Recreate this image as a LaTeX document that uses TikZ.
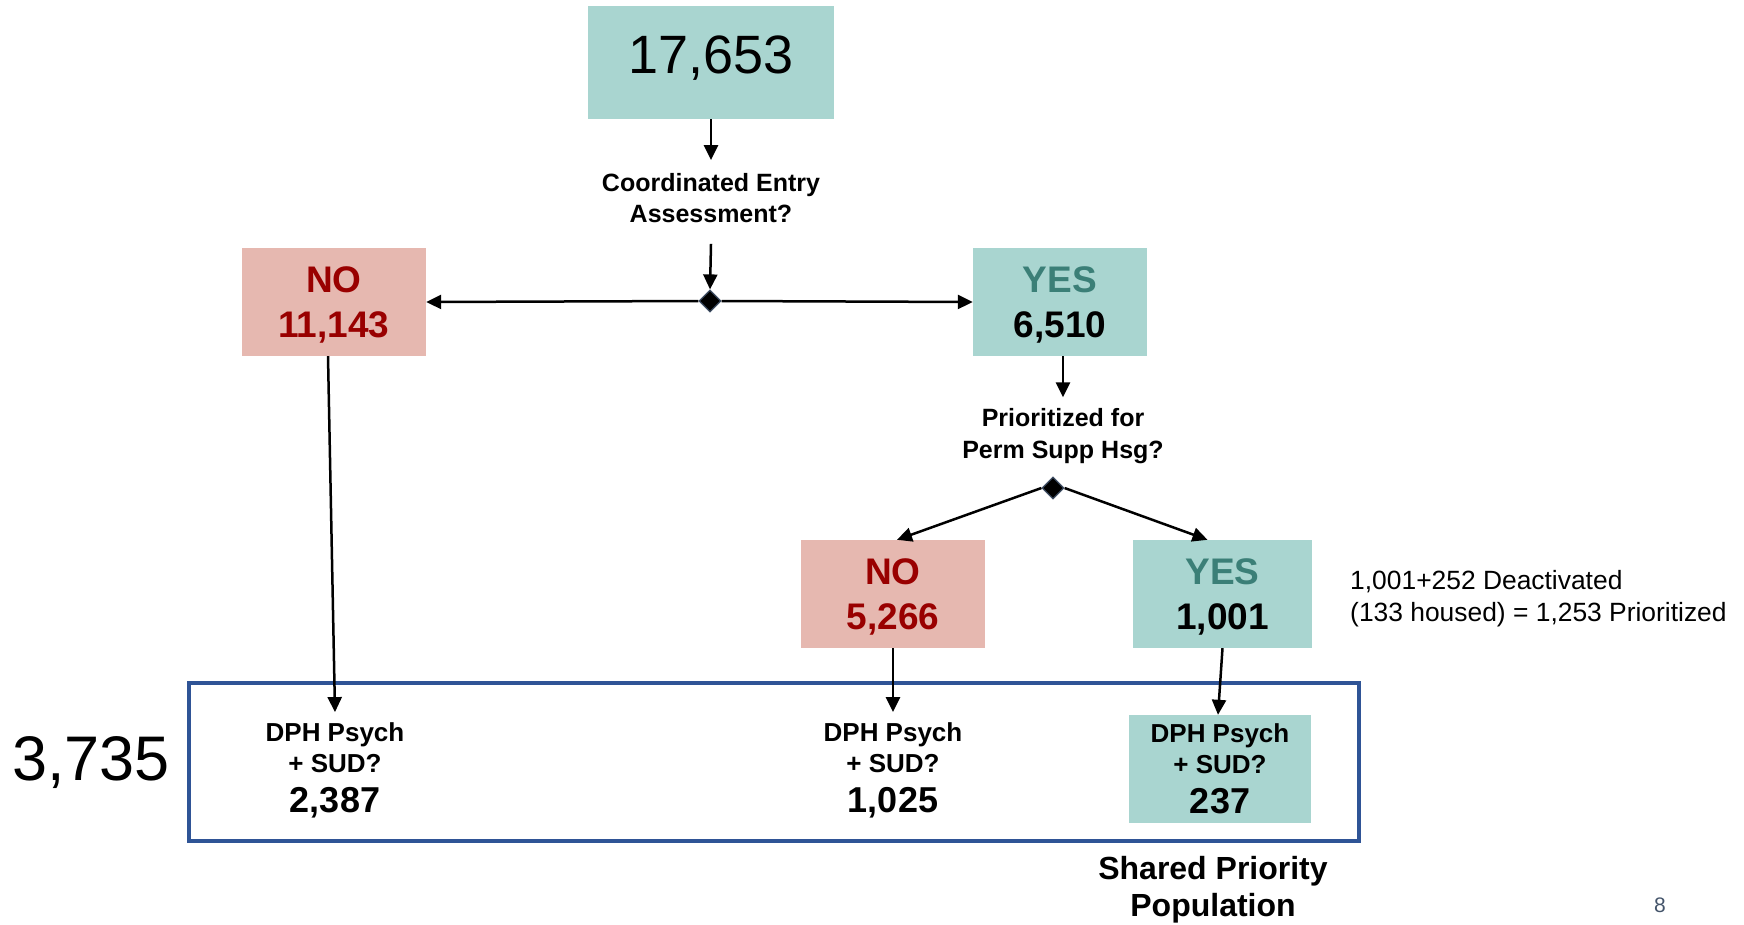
\documentclass[tikz,border=0pt]{standalone}
\usepackage{fontspec}
\setmainfont{Liberation Sans}
\usetikzlibrary{arrows.meta,shapes.geometric}
\definecolor{tealfill}{HTML}{A9D5D0}
\definecolor{pinkfill}{HTML}{E6B8B0}
\definecolor{nored}{HTML}{990000}
\definecolor{yesteal}{HTML}{3B7F77}
\definecolor{frameblue}{HTML}{2F5496}
\definecolor{diaedge}{HTML}{3E4D63}
\definecolor{pagenum}{HTML}{44546A}
\newcommand{\fsz}[2]{\fontsize{#1}{#2}\selectfont}
\begin{document}
\begin{tikzpicture}[x=1pt,y=-1pt,
  box/.style={inner sep=0pt, align=center},
  tealbox/.style={box, fill=tealfill},
  pinkbox/.style={box, fill=pinkfill},
  ynbox/.style={minimum width=#1, minimum height=108pt, text depth=0pt, font=\bfseries\fsz{37}{45.5}},
  arr/.style={-{Triangle[length=15pt,width=14pt]}, line width=2.5pt},
  dia/.style={diamond, fill=black, draw=diaedge, line width=1.2pt, minimum width=22pt, minimum height=22pt, inner sep=0pt},
  qtext/.style={inner sep=0pt, align=center, font=\bfseries\fsz{25}{31}},
  dphtext/.style={inner sep=0pt, align=center, font=\bfseries\fsz{26}{31}},
]
\useasboundingbox (0,0) rectangle (1744,924);

% top
\node[tealbox, minimum width=246pt, minimum height=113pt, text depth=15pt] (top) at (711,62.5) {\fsz{54}{60}17,653};
\node[qtext] (ce) at (711,198) {Coordinated Entry\\Assessment?};
\node[dia] (d1) at (710,301) {};
\node[pinkbox, ynbox=184pt, text=nored] (no1) at (334,302) {NO\\11,143};
\node[tealbox, ynbox=174pt] (yes1) at (1060,302) {\textcolor{yesteal}{YES}\\6,510};

\draw[arr] (top.south) -- ([yshift=13pt]ce.north);
\draw[arr] ([yshift=-21pt]ce.south) -- (d1.north);
\draw[arr] (d1.west) -- (no1.east);
\draw[arr] (d1.east) -- (yes1.west);

% second level
\node[qtext, font=\bfseries\fsz{25}{32.5}] (pq) at (1063,436) {Prioritized for\\Perm Supp Hsg?};
\node[dia] (d2) at (1053,488) {};
\node[pinkbox, ynbox=184pt, text=nored] (no2) at (893,594) {NO\\5,266};
\node[tealbox, ynbox=179pt] (yes2) at (1222.5,594) {\textcolor{yesteal}{YES}\\1,001};

\draw[arr] ([xshift=3pt]yes1.south) -- ([yshift=10.5pt]pq.north);
\draw[arr] (d2.west) -- ([xshift=4pt]no2.north);
\draw[arr] (d2.east) -- ([xshift=-15pt]yes2.north);

\node[inner sep=0pt, anchor=west, align=left, font=\fsz{26.4}{32}] (note) at (1350,599) {1,001+252 Deactivated\\(133 housed) = 1,253 Prioritized};

% bottom frame
\node[draw=frameblue, line width=4.5pt, minimum width=1170pt, minimum height=158pt, inner sep=0pt] (frame) at (774,762) {};
\node[inner sep=0pt, font=\fsz{63}{70}] (total) at (91,763) {3,735};

\node[dphtext] (dph1) at (335,770) {DPH Psych\\+ SUD?\\[9pt]\fsz{36}{40}2,387};
\node[dphtext] (dph2) at (893,770) {DPH Psych\\+ SUD?\\[9pt]\fsz{36}{40}1,025};
\node[tealbox, dphtext, minimum width=182pt, minimum height=108pt] (dph3) at (1220,769) {DPH Psych\\+ SUD?\\[9pt]\fsz{36}{40}237};

\draw[arr] ([xshift=-6pt]no1.south) -- ([yshift=10pt]dph1.north);
\draw[arr] (no2.south) -- ([yshift=10pt]dph2.north);
\draw[arr] (yes2.south) -- ([xshift=-2pt]dph3.north);

\node[inner sep=0pt, align=center, font=\bfseries\fsz{32}{37}] (shared) at (1213,890) {Shared Priority\\Population};
\node[inner sep=0pt, text=pagenum, font=\fsz{21}{24}] (page) at (1660,905) {8};
\end{tikzpicture}
\end{document}
